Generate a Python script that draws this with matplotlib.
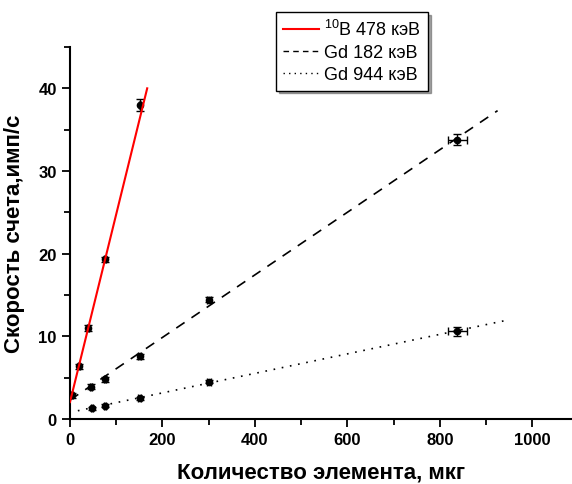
import numpy as np
import matplotlib.pyplot as plt
from matplotlib.lines import Line2D
from matplotlib.ticker import MultipleLocator

# data
b_x = [5, 19, 39, 76, 151]
b_y = [2.9, 6.4, 11.0, 19.3, 38.0]
b_yerr = [0.3, 0.3, 0.4, 0.3, 0.7]

gd182_x = [45, 76, 151, 301, 838]
gd182_y = [3.9, 4.8, 7.6, 14.4, 33.8]
gd182_yerr = [0.3, 0.3, 0.3, 0.3, 0.7]
gd182_xerr = [2, 2, 3, 4, 20]

gd944_x = [47, 76, 151, 301, 838]
gd944_y = [1.3, 1.6, 2.5, 4.5, 10.6]
gd944_yerr = [0.2, 0.2, 0.2, 0.2, 0.5]
gd944_xerr = [2, 2, 3, 4, 20]

# fitted lines (end points)
b_fit_x = [0, 167]
b_fit_y = [2.05, 40.0]
gd182_fit_x = [0, 925]
gd182_fit_y = [2.3, 37.3]
gd944_fit_x = [17, 941]
gd944_fit_y = [1.0, 11.9]

labels = ['$^{10}$B 478 кэВ', 'Gd 182 кэВ', 'Gd 944 кэВ']

plt.rcParams['font.family'] = ['Liberation Sans', 'DejaVu Sans']
plt.rcParams['font.weight'] = 'bold'
plt.rcParams['mathtext.default'] = 'regular'

fig = plt.figure(figsize=(5.72, 4.85), dpi=100)
ax = fig.add_axes([70/572, 65/485, 502/572, 372/485])

ax.plot(b_fit_x, b_fit_y, color='red', lw=1.5, zorder=3)
ax.plot(gd182_fit_x, gd182_fit_y, color='black', lw=1.2, ls=(0, (6, 5)))
ax.plot(gd944_fit_x, gd944_fit_y, color='black', lw=1.2, ls=(0, (1, 4)))

ax.errorbar(b_x, b_y, yerr=b_yerr, xerr=2, fmt='o', color='black', ms=4.5, capsize=3, elinewidth=1)
ax.errorbar(gd182_x, gd182_y, yerr=gd182_yerr, xerr=gd182_xerr, fmt='o', color='black', ms=4.5, capsize=3, elinewidth=1)
ax.errorbar(gd944_x, gd944_y, yerr=gd944_yerr, xerr=gd944_xerr, fmt='o', color='black', ms=4.5, capsize=3, elinewidth=1)

ax.set_xlim(0, 1086)
ax.set_ylim(0, 45)
ax.xaxis.set_major_locator(MultipleLocator(200))
ax.xaxis.set_minor_locator(MultipleLocator(100))
ax.yaxis.set_major_locator(MultipleLocator(10))
ax.yaxis.set_minor_locator(MultipleLocator(5))

for s in ['top', 'right']:
    ax.spines[s].set_visible(False)
for s in ['left', 'bottom']:
    ax.spines[s].set_linewidth(1.5)

ax.tick_params(which='major', direction='out', length=6, width=1.3, labelsize=12)
ax.tick_params(which='minor', direction='out', length=4, width=1.3)

ax.set_xlabel('Количество элемента, мкг', fontsize=16, fontweight='bold', labelpad=10)
ax.set_ylabel('Скорость счета,имп/с', fontsize=16, fontweight='bold', labelpad=10)

# legend handles with the shorter dash patterns seen in the legend box
handles = [Line2D([], [], color='red', lw=1.5),
           Line2D([], [], color='black', lw=1.0, ls=(0, (4, 3))),
           Line2D([], [], color='black', lw=1.0, ls=(0, (1, 3)))]
leg = ax.legend(handles, labels, loc='upper left', bbox_to_anchor=(276/572, 1 - 13/485),
                bbox_transform=fig.transFigure, prop={'size': 13, 'weight': 'normal'},
                frameon=True, fancybox=False, shadow=True,
                handlelength=2.0, borderpad=0.4, labelspacing=0.28,
                handletextpad=0.25, borderaxespad=0)
leg.get_frame().set_edgecolor('black')
leg.get_frame().set_linewidth(1.0)

fig.savefig('out.png', dpi=100)
